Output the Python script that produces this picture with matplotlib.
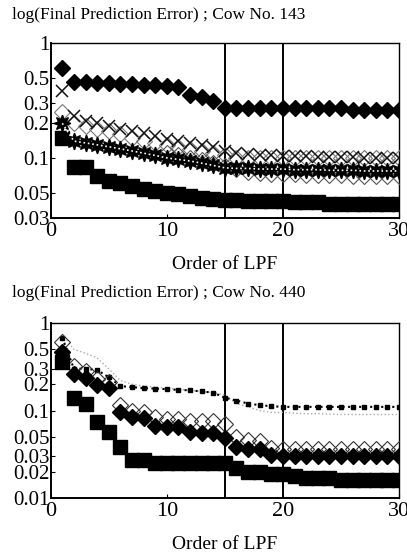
import numpy as np
import matplotlib.pyplot as plt
from matplotlib.ticker import FixedLocator, NullLocator

plt.rcParams['font.family'] = ['Liberation Serif', 'DejaVu Serif']

# === データ ===
order = list(range(1, 31))

# Cow No. 143
c143_diamond = [0.60, 0.46, 0.46, 0.45, 0.45, 0.44, 0.44, 0.43, 0.43, 0.42, 0.41,
                0.35, 0.34, 0.31, 0.27, 0.27, 0.27, 0.27, 0.27, 0.27, 0.27, 0.27,
                0.27, 0.27, 0.27, 0.26, 0.26, 0.26, 0.26, 0.26]
c143_cross = [0.38, 0.23, 0.21, 0.20, 0.19, 0.18, 0.17, 0.165, 0.155, 0.145, 0.14,
              0.135, 0.13, 0.125, 0.115, 0.11, 0.108, 0.106, 0.105, 0.104, 0.103,
              0.103, 0.102, 0.102, 0.101, 0.101, 0.100, 0.100, 0.100, 0.100]
c143_open = [0.25, 0.20, 0.19, 0.18, 0.17, 0.16, 0.15, 0.14, 0.135, 0.13, 0.125,
             0.12, 0.115, 0.11, 0.105, 0.10, 0.10, 0.10, 0.10, 0.10, 0.10, 0.10,
             0.10, 0.10, 0.10, 0.10, 0.10, 0.10, 0.10, 0.10]
c143_open2 = [None] * 9 + [0.11, 0.105, 0.10, 0.095, 0.09, 0.085, 0.08, 0.075,
                           0.074, 0.073, 0.072, 0.072, 0.071, 0.071, 0.071, 0.071,
                           0.070, 0.070, 0.070, 0.070, 0.070]
c143_star = [0.20, 0.14, 0.135, 0.13, 0.125, 0.12, 0.115, 0.11, 0.105, 0.10, 0.097,
             0.094, 0.09, 0.086, 0.082, 0.081, 0.081, 0.080, 0.080, 0.080, 0.079,
             0.079, 0.079, 0.078, 0.078, 0.078, 0.077, 0.077, 0.077, 0.077]
c143_square = [0.148, 0.083, 0.083, 0.070, 0.063, 0.060, 0.057, 0.054, 0.052, 0.050,
               0.049, 0.047, 0.045, 0.044, 0.043, 0.043, 0.042, 0.042, 0.042, 0.042,
               0.041, 0.041, 0.041, 0.040, 0.040, 0.040, 0.040, 0.040, 0.040, 0.040]

# Cow No. 440
c440_dotted = [0.68, 0.30, 0.30, 0.29, 0.24, 0.19, 0.185, 0.18, 0.178, 0.175, 0.172,
               0.17, 0.165, 0.16, 0.14, 0.13, 0.12, 0.115, 0.112, 0.11, 0.11, 0.11,
               0.11, 0.11, 0.11, 0.11, 0.11, 0.11, 0.11, 0.11]
c440_faint = [0.75, 0.50, 0.45, 0.40, 0.30, 0.22, 0.20, 0.19, 0.185, 0.18, 0.175,
              0.17, 0.165, 0.16, 0.15, 0.12, 0.11, 0.10, 0.095, 0.095, 0.093, 0.092,
              0.092, 0.091, 0.09, 0.09, 0.09, 0.09, 0.09, 0.09]
c440_open = [0.60, 0.32, 0.28, 0.23, 0.21, 0.115, 0.10, 0.095, 0.085, 0.08,
             0.08, 0.075, 0.075, 0.075, 0.07, 0.05, 0.046, 0.045, 0.037, 0.036,
             0.036, 0.036, 0.036, 0.036, 0.036, 0.036, 0.036, 0.036, 0.036, 0.036]
c440_diamond = [0.47, 0.26, 0.235, 0.195, 0.18, 0.096, 0.085, 0.083, 0.066, 0.065,
                0.064, 0.057, 0.055, 0.055, 0.048, 0.038, 0.036, 0.036, 0.031, 0.030,
                0.030, 0.030, 0.030, 0.030, 0.030, 0.030, 0.030, 0.030, 0.030, 0.030]
c440_square = [0.36, 0.14, 0.12, 0.074, 0.057, 0.038, 0.027, 0.027, 0.025, 0.025,
               0.025, 0.025, 0.025, 0.025, 0.025, 0.022, 0.020, 0.020, 0.019, 0.019,
               0.018, 0.017, 0.017, 0.017, 0.016, 0.016, 0.016, 0.016, 0.016, 0.016]

ticks_143 = [0.03, 0.05, 0.1, 0.2, 0.3, 0.5, 1]
ticks_440 = [0.01, 0.02, 0.03, 0.05, 0.1, 0.2, 0.3, 0.5, 1]

W, H = 407, 557
fig = plt.figure(figsize=(W / 100, H / 100), dpi=100)

def arr(v):
    return np.array([np.nan if a is None else a for a in v], dtype=float)

def setup(ax, ymin, yticks):
    ax.set_yscale('log')
    ax.set_xlim(0, 30)
    ax.set_ylim(ymin, 1)
    ax.yaxis.set_major_locator(FixedLocator(yticks))
    ax.yaxis.set_minor_locator(NullLocator())
    ax.set_yticklabels([f"{t:g}" for t in yticks], fontsize=15)
    ax.set_xticks([0, 10, 20, 30])
    ax.set_xticklabels(['0', '10', '20', '30'], fontsize=16)
    ax.tick_params(direction='in', length=3, width=0.8, pad=1)
    ax.tick_params(axis='x', pad=3)
    for s in ['left', 'bottom']:
        ax.spines[s].set_linewidth(1.4)
    for s in ['top', 'right']:
        ax.spines[s].set_linewidth(1.0)
    ax.axvline(15, color='black', lw=1.4, zorder=1)
    ax.axvline(20, color='black', lw=1.4, zorder=1)
    ax.set_xlabel('Order of LPF', fontsize=14, labelpad=11)

x = np.array(order)

# --- 上段：Cow No. 143 ---
ax1 = fig.add_axes([50.7 / W, 1 - 218 / H, 348.3 / W, 175 / H])
setup(ax1, 0.03, ticks_143)
ax1.plot(x, arr(c143_open), ls='none', marker='D', ms=8.5, mfc='none', mec='#777777', mew=0.8, zorder=3)
ax1.plot(x, arr(c143_open2), ls='none', marker='D', ms=8.5, mfc='none', mec='#555555', mew=0.8, zorder=3)
ax1.plot(x, arr(c143_cross), ls='none', marker='x', ms=8, mec='#111111', mew=1.1, zorder=4)
ax1.plot(x, arr(c143_star), ls='none', marker=(8, 1, 0), ms=12, color='black', zorder=5)
ax1.plot(x, arr(c143_star), ls=':', lw=1.2, color='white', zorder=6)
ax1.plot(x, arr(c143_diamond), ls='none', marker='D', ms=8.5, color='black', zorder=5)
ax1.plot(x, arr(c143_square), ls='none', marker='s', ms=10, color='black', zorder=5)
fig.text(12 / W, 1 - 15 / H, 'log(Final Prediction Error) ; Cow No. 143',
         fontsize=12.5, ha='left', va='center')

# --- 下段：Cow No. 440 ---
ax2 = fig.add_axes([50.7 / W, 1 - 498 / H, 348.3 / W, 175 / H])
setup(ax2, 0.01, ticks_440)
ax2.plot(x, arr(c440_faint), ls=':', lw=1.0, color='#aaaaaa', zorder=2)
ax2.plot(x, arr(c440_dotted), ls=':', lw=1.5, color='black', marker='s', ms=3, zorder=3)
ax2.plot(x, arr(c440_open), ls='none', marker='D', ms=8.5,
         mfc='none', mec='#333333', mew=0.8, zorder=3)
ax2.plot(x, arr(c440_diamond), ls='none', marker='D', ms=8.5, color='black', zorder=5)
ax2.plot(x, arr(c440_square), ls='none', marker='s', ms=10, color='black', zorder=5)
fig.text(12 / W, 1 - 293 / H, 'log(Final Prediction Error) ; Cow No. 440',
         fontsize=12.5, ha='left', va='center')

fig.savefig('out.png', dpi=100)
